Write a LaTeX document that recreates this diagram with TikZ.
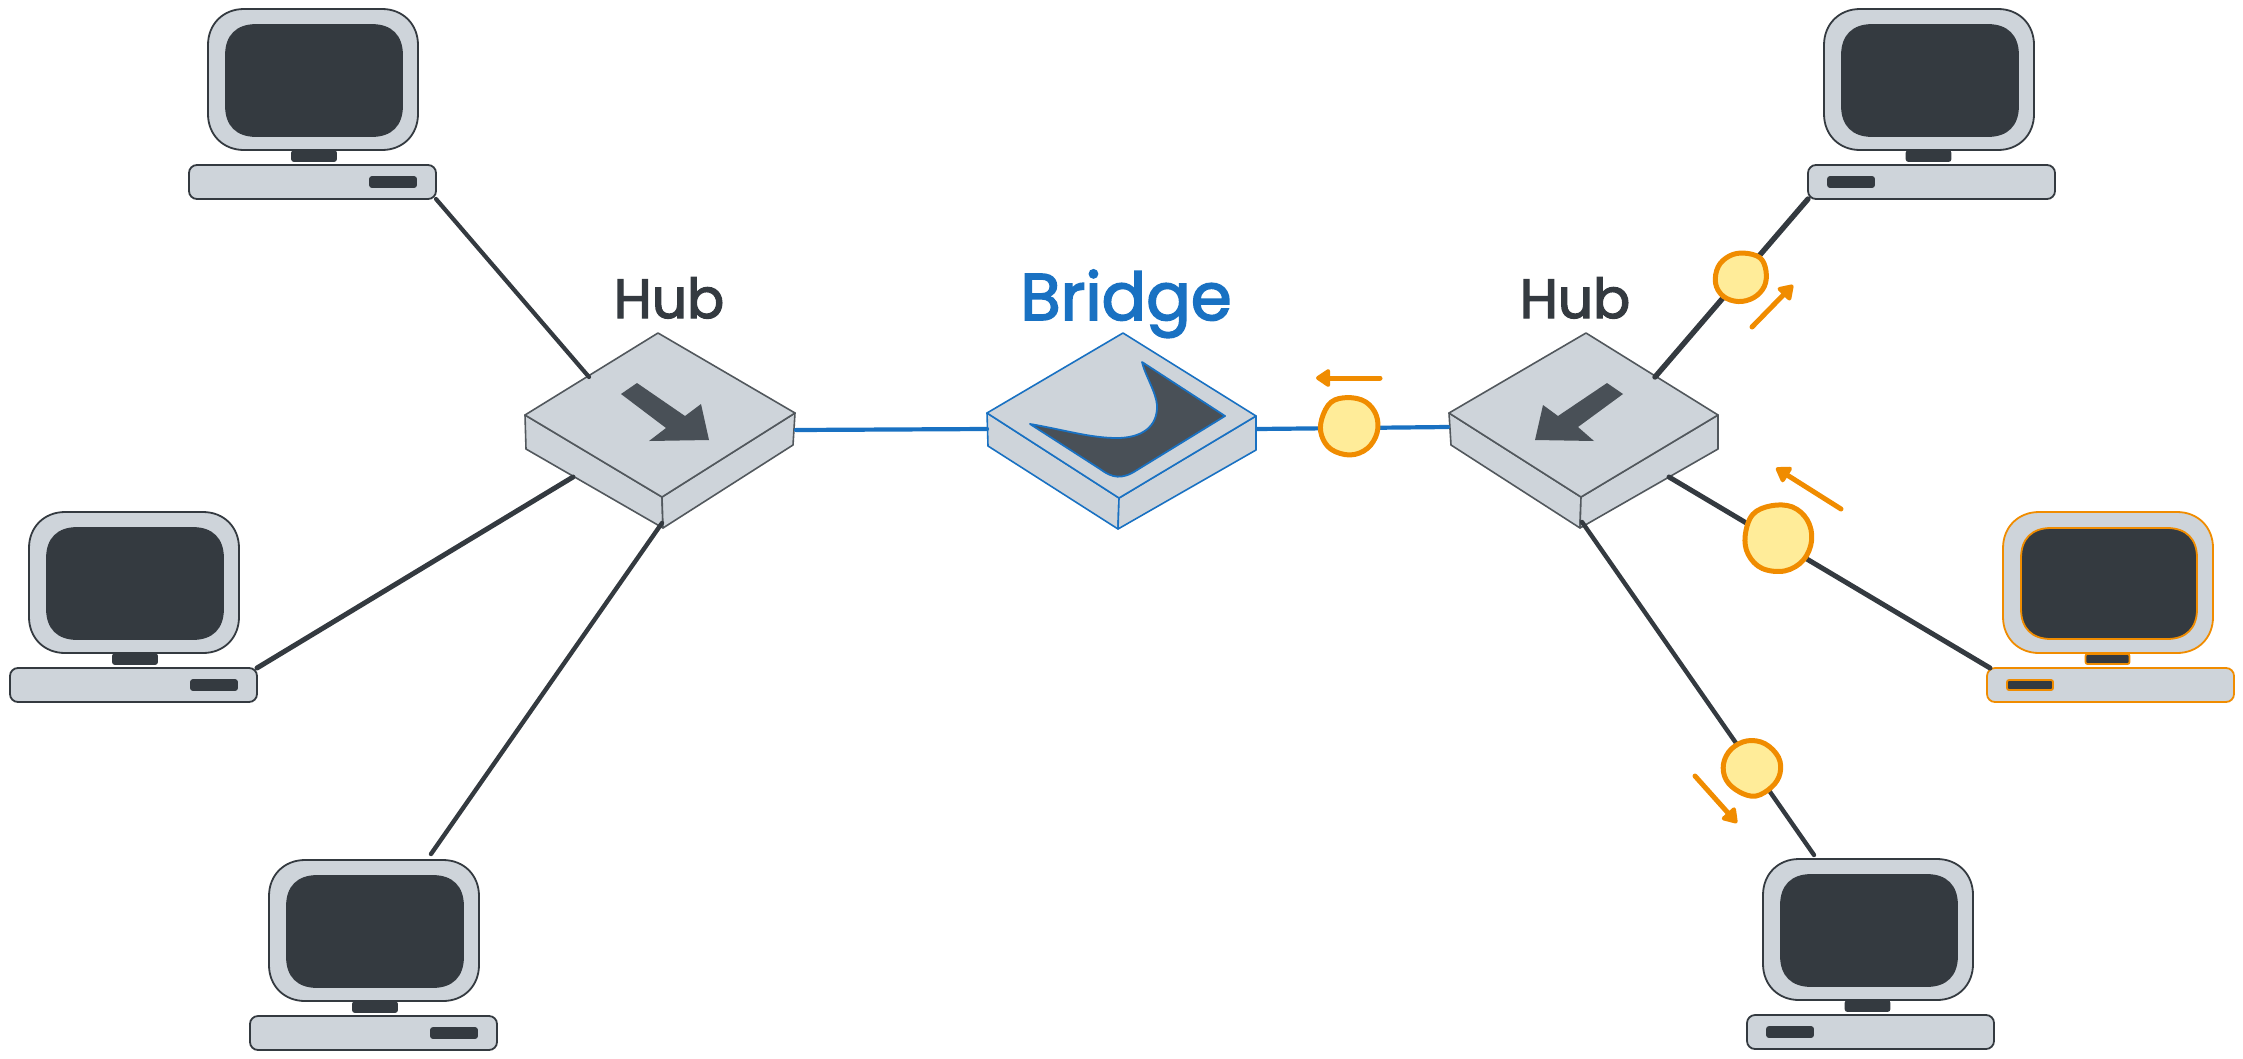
\documentclass[tikz,border=0pt]{standalone}
\usepackage{fontspec}
\newfontfamily\handfont{Poppins}[FakeBold=2.5]
\usetikzlibrary{arrows.meta,calc}
\definecolor{ink}{HTML}{343A40}
\definecolor{fillgrey}{HTML}{CED4DA}
\definecolor{arrowgrey}{HTML}{495057}
\definecolor{bridgeblue}{HTML}{1971C2}
\definecolor{pktorange}{HTML}{F08C00}
\definecolor{pktyellow}{HTML}{FFEC99}
\tikzset{
  pcpart/.style={rectangle,draw=#1,fill=fillgrey,line width=1.8pt,inner sep=0pt,outer sep=0pt,anchor=north west},
  pcdark/.style={rectangle,draw=#1,fill=ink,line width=1.8pt,inner sep=0pt,outer sep=0pt,anchor=north west},
  wire/.style={draw=ink,line cap=round,line width=#1},
  link/.style={draw=bridgeblue,line cap=round,line width=4.2pt},
  boxface/.style={draw=#1,fill=fillgrey,line width=1.6pt,line join=round},
  packet/.style={draw=pktorange,fill=pktyellow,line width=5pt},
  flow/.style={draw=pktorange,line width=5pt,line cap=round,
    -{Triangle[length=16pt,width=20pt,round]}},
  lbl/.style={inner sep=0pt,outer sep=0pt,anchor=base}
}
% x0, y0, x1, y1, r, k, style
\newcommand{\squirc}[7]{%
  \path[#7]
    ({#1+#5},#2) -- ({#3-#5},#2)
    .. controls ({#3-#6*#5},#2) and (#3,{#2+#6*#5}) .. (#3,{#2+#5})
    -- (#3,{#4-#5})
    .. controls (#3,{#4-#6*#5}) and ({#3-#6*#5},#4) .. ({#3-#5},#4)
    -- ({#1+#5},#4)
    .. controls ({#1+#6*#5},#4) and (#1,{#4-#6*#5}) .. (#1,{#4-#5})
    -- (#1,{#2+#5})
    .. controls (#1,{#2+#6*#5}) and ({#1+#6*#5},#2) .. ({#1+#5},#2) -- cycle;}
% name, x, y, slot offset, outline colour, monitor dx
\newcommand{\pcunit}[6]{%
  \begin{scope}[shift={(#2,#3)}]
    \pgfmathsetmacro{\monL}{19+#6}\pgfmathsetmacro{\monR}{229+#6}
    \pgfmathsetmacro{\scrL}{37+#6}\pgfmathsetmacro{\scrR}{213+#6}
    \coordinate (#1mon) at (\monL,0);
    \squirc{\monL}{0}{\monR}{141}{36}{0.42}{draw=#5,fill=fillgrey,line width=1.8pt}
    \coordinate (#1scr) at (\scrL,16);
    \squirc{\scrL}{16}{\scrR}{127}{30}{0.36}{draw=#5,fill=ink,line width=1.8pt}
    \node[pcdark=#5,minimum width=44pt,minimum height=10pt,rounded corners=2pt] (#1std) at ({103+1.5*#6},142) {};
    \node[pcpart=#5,minimum width=247pt,minimum height=34pt,rounded corners=8pt] (#1base) at (0,156) {};
    \node[pcdark=#5,minimum width=46pt,minimum height=10pt,rounded corners=2pt] (#1slot) at (#4,168) {};
  \end{scope}}
% prefix, colour, top, left, right, front, leftlow, rightlow, bottom
\newcommand{\boxdev}[9]{%
  \coordinate (#1t) at #3; \coordinate (#1l) at #4; \coordinate (#1r) at #5;
  \coordinate (#1f) at #6; \coordinate (#1a) at #7; \coordinate (#1b) at #8; \coordinate (#1c) at #9;
  \path[boxface=#2] (#1l) -- (#1f) -- (#1c) -- (#1a) -- cycle;
  \path[boxface=#2] (#1r) -- (#1f) -- (#1c) -- (#1b) -- cycle;
  \path[boxface=#2] (#1t) -- (#1r) -- (#1f) -- (#1l) -- cycle;}
% name, cx, cy, rx, ry, rotation
\newcommand{\pkt}[6]{%
  \coordinate (#1) at (#2,#3);
  \begin{scope}[shift={(#1)},rotate=#6,x=#4pt,y=#5pt]
    \draw[packet] plot[smooth cycle,tension=0.62] coordinates
      {(1.01,0.03)(0.82,0.60)(0.30,0.95)(-0.30,1.00)(-0.80,0.56)(-1.00,0.02)(-0.85,-0.56)(-0.30,-0.97)(0.33,-0.96)(0.83,-0.56)};
  \end{scope}}
\begin{document}
\begin{tikzpicture}[x=1pt,y=-1pt]
\useasboundingbox (0,0) rectangle (2243,1058);
% computers
\pcunit{ca}{189}{9}{181}{ink}{0}
\pcunit{cb}{10}{512}{181}{ink}{0}
\pcunit{cc}{250}{860}{181}{ink}{0}
\pcunit{cd}{1808}{9}{20}{ink}{-3}
\pcunit{ce}{1987}{512}{20}{pktorange}{-3}
\pcunit{cf}{1747}{859}{20}{ink}{-3}
% devices
\boxdev{ha}{ink!85!white}{(658,333)}{(525,415)}{(795,413)}{(662,497)}{(526,449)}{(793,445)}{(663,528)}
\boxdev{br}{bridgeblue}{(1123,333)}{(987,413)}{(1256,416)}{(1119,498)}{(988,446)}{(1256,450)}{(1118,529)}
\boxdev{hb}{ink!85!white}{(1586,333)}{(1449,413)}{(1718,415)}{(1581,497)}{(1451,445)}{(1718,449)}{(1580,528)}
% device glyphs
\fill[arrowgrey] (637,383) -- (621,394) -- (666,428) -- (649,441) -- (709,440) -- (701,404) -- (685,416) -- cycle;
\fill[arrowgrey] (1607,383) -- (1623,394) -- (1578,427) -- (1594,441) -- (1535,440) -- (1543,405) -- (1558,416) -- cycle;
\draw[draw=bridgeblue,fill=arrowgrey,line width=1.8pt,line join=round]
  (1030,424) .. controls (1065,430) and (1090,438) .. (1117,438)
  .. controls (1140,438) and (1158,428) .. (1157,405)
  .. controls (1156,392) and (1145,375) .. (1142,362)
  -- (1225,416) -- (1137,470)
  .. controls (1122,480) and (1112,478) .. (1100,469) -- cycle;
% connection points
\coordinate (hanw) at (589,377);
\coordinate (hasw) at (573,477);
\coordinate (has) at (662,523);
\coordinate (hae) at (796,430);
\coordinate (brw) at (987,429);
\coordinate (bre) at (1257,429);
\coordinate (hbw) at (1448,427);
\coordinate (hbne) at (1655,377);
\coordinate (hbse) at (1669,477);
\coordinate (hbs) at (1582,522);
\coordinate (cctop) at (431,854);
\coordinate (cftop) at (1814,855);
\coordinate (ceport) at (1990,668);
% connectors
\draw[wire=4.2pt] (cabase.south east) -- (hanw);
\draw[wire=5pt] (cbbase.north east) -- (hasw);
\draw[wire=4.4pt] (cctop) -- (has);
\draw[link] (hae) -- (brw);
\draw[link] (bre) -- (hbw);
\draw[wire=5.4pt] (cdbase.south west) -- (hbne);
\draw[wire=5pt] (ceport) -- (hbse);
\draw[wire=4.4pt] (cftop) -- (hbs);
% packets
\pkt{pa}{1349}{426}{29}{28.5}{20}
\pkt{pb}{1741}{277}{24}{26}{-60}
\pkt{pc}{1778}{538}{34}{33}{30}
\pkt{pd}{1752}{768}{28.5}{27}{170}
% packet direction
\coordinate (faf) at (1380,378); \coordinate (fat) at (1316,378);
\coordinate (fbf) at (1752,327); \coordinate (fbt) at (1793,285);
\coordinate (fcf) at (1841,509); \coordinate (fct) at (1776,468);
\coordinate (fdf) at (1695,776); \coordinate (fdt) at (1737,823);
\draw[flow] (faf) -- (fat);
\draw[flow] (fbf) -- (fbt);
\draw[flow] (fcf) -- (fct);
\draw[flow] (fdf) -- (fdt);
% labels
\node[lbl,text=ink,font=\handfont\fontsize{55}{60}\selectfont] (hublabela) at (669,318) {Hub};
\node[lbl,text=bridgeblue,font=\handfont\fontsize{66}{70}\selectfont] (bridgelabel) at (1126,320) {Bridge};
\node[lbl,text=ink,font=\handfont\fontsize{55}{60}\selectfont] (hublabelb) at (1575,318) {Hub};
\end{tikzpicture}
\end{document}
